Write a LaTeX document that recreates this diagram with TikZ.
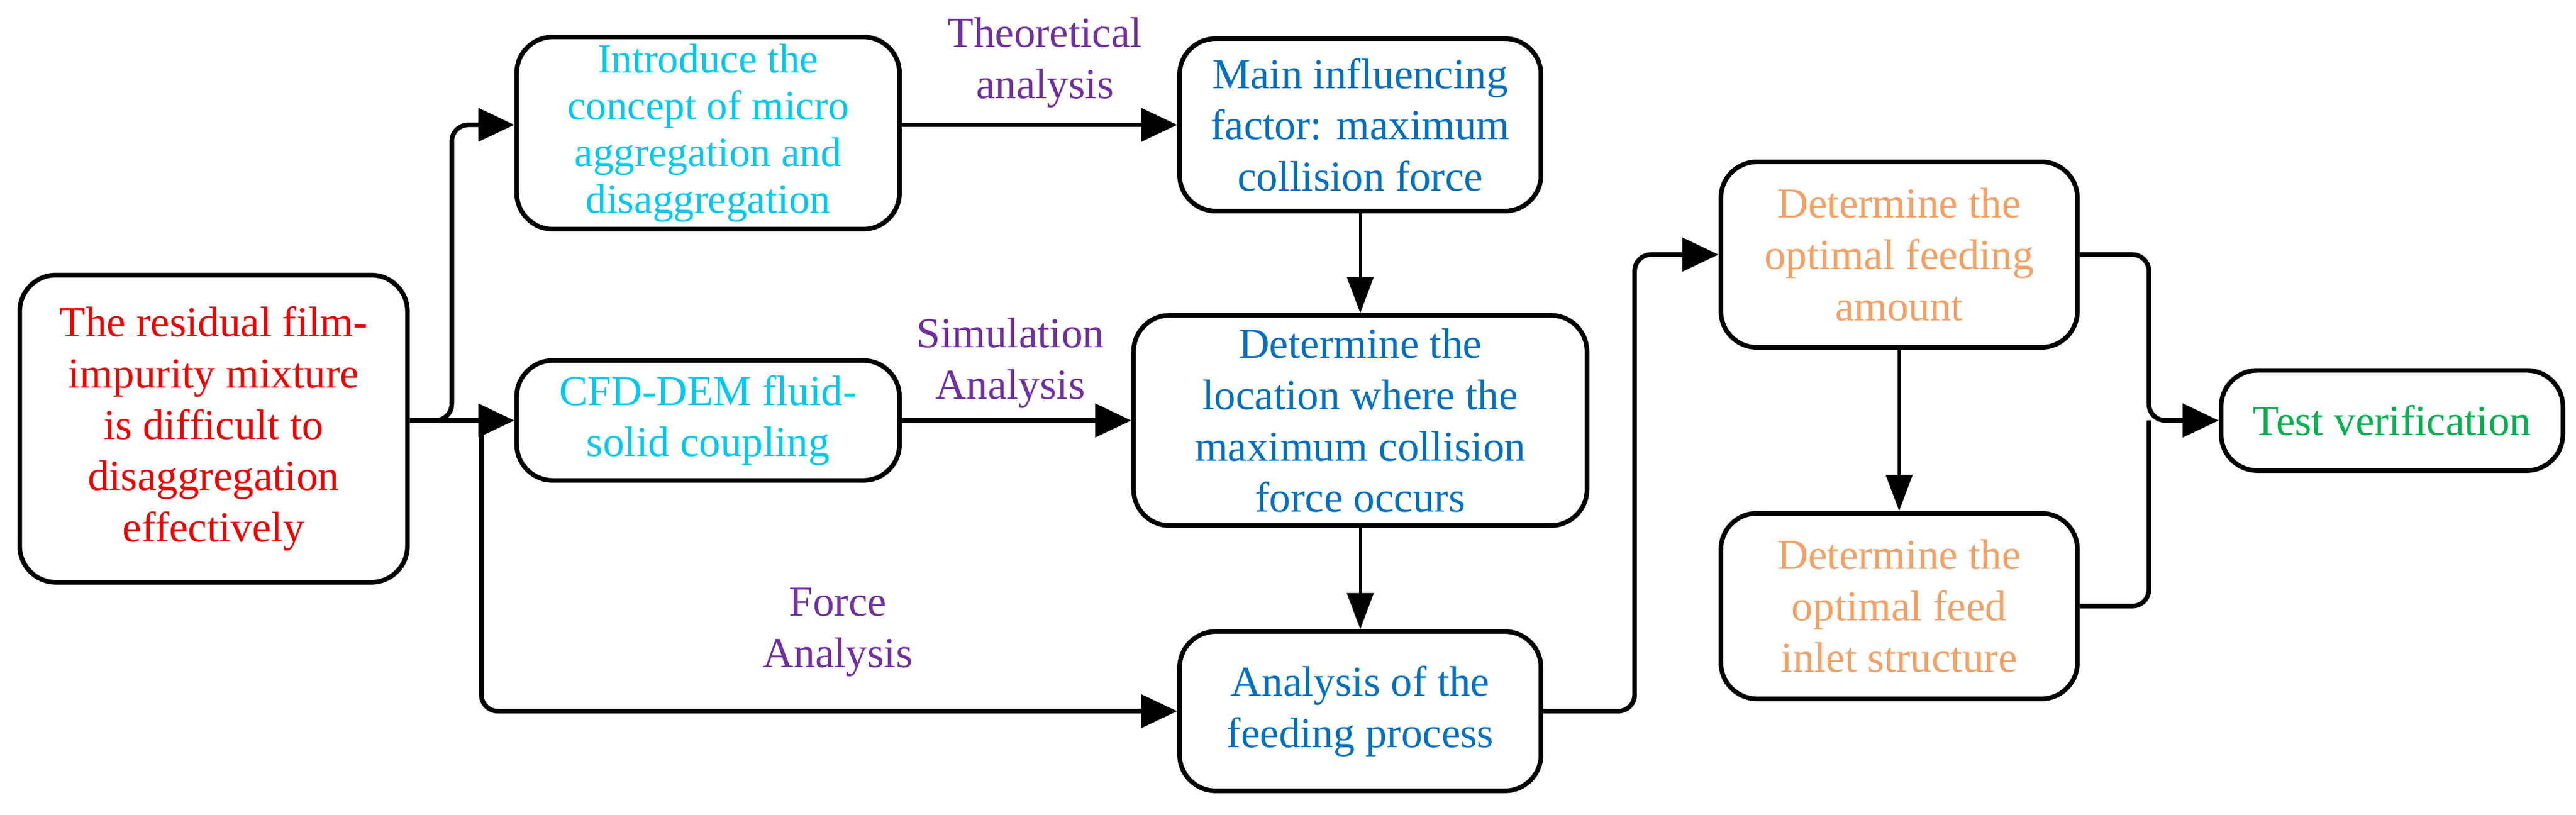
\documentclass[tikz,border=0pt]{standalone}
\usepackage{fontspec}
\setmainfont{Liberation Serif}
\usetikzlibrary{arrows.meta}
\definecolor{cred}{RGB}{240,0,0}
\definecolor{ccyan}{RGB}{0,200,240}
\definecolor{cblue}{RGB}{0,112,192}
\definecolor{cpurp}{RGB}{112,48,160}
\definecolor{corange}{RGB}{244,160,100}
\definecolor{cgreen}{RGB}{0,176,80}
\begin{document}
\begin{tikzpicture}[x=0.1mm,y=-0.1mm,
  box/.style={draw,line width=0.8pt,rounded corners=2.2mm,align=center,inner sep=0pt,
    font=\fontsize{7.4}{8.9}\selectfont},
  lab/.style={align=center,text=cpurp,font=\fontsize{7.4}{8.9}\selectfont},
  arr/.style={line width=0.8pt,rounded corners=1mm,-{Triangle[length=2.2mm,width=2mm]}},
  varr/.style={line width=0.5pt,-{Triangle[length=2.2mm,width=1.6mm]}},
  ln/.style={line width=0.8pt,rounded corners=1mm}]
\useasboundingbox (0,0) rectangle (1568,496);
\node[box,text=cred,minimum width=23.6mm,minimum height=18.7mm] (A) at (130,261) {The residual film-\\impurity mixture\\is difficult to\\disaggregation\\effectively};
\node[box,text=ccyan,minimum width=23.3mm,minimum height=11.7mm,font=\fontsize{7.2}{8.1}\selectfont] (B) at (431,81) {Introduce the\\concept of micro\\aggregation and\\disaggregation};
\node[box,text=cblue,minimum width=22mm,minimum height=10.5mm] (C) at (828,76) {Main influencing\\factor: maximum\\collision force};
\node[box,text=ccyan,minimum width=23.3mm,minimum height=7.3mm] (D) at (431,256) {CFD-DEM fluid-\\solid coupling};
\node[box,text=cblue,minimum width=27.6mm,minimum height=12.8mm] (E) at (828,256) {Determine the\\location where the\\maximum collision\\force occurs};
\node[box,text=cblue,minimum width=22mm,minimum height=9.7mm] (F) at (828,433) {Analysis of the\\feeding process};
\node[box,text=corange,minimum width=21.7mm,minimum height=11.3mm] (G) at (1156,155) {Determine the\\optimal feeding\\amount};
\node[box,text=corange,minimum width=21.7mm,minimum height=11.3mm] (H) at (1156,369) {Determine the\\optimal feed\\inlet structure};
\node[box,text=cgreen,minimum width=20.8mm,minimum height=6.1mm] (T) at (1456,256) {Test verification};
\node[lab] (l1) at (636,38) {Theoretical\\analysis};
\node[lab] (l2) at (615,221) {Simulation\\Analysis};
\node[lab] (l3) at (510,385) {Force\\Analysis};
\coordinate (j1) at (275,256);
\coordinate (j2) at (293,256);
\draw[arr] (A.east|-D.west) -- (j1) |- (B.west|-C.west);
\draw[arr] (A.east|-D.west) -- (D.west);
\draw[arr] (j2) |- (F.west);
\draw[arr] (B.east|-C.west) -- (C.west);
\draw[arr] (D.east) -- (E.west);
\draw[varr] (C.south) -- (E.north);
\draw[varr] (E.south) -- (F.north);
\draw[arr] (F.east) -- (995,433) |- (G.west);
\draw[varr] (G.south) -- (H.north);
\draw[arr] (G.east) -- (1308,155) |- (T.west);
\draw[ln] (H.east) -- (1308,369) -- (1308,256);
\end{tikzpicture}
\end{document}
